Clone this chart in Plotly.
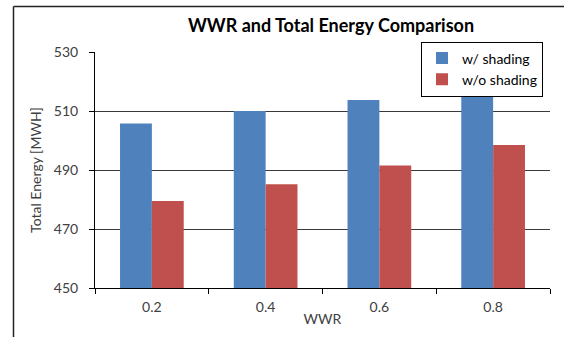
import plotly.graph_objects as go

categories = ["0.2", "0.4", "0.6", "0.8"]
with_shading = [505.8, 510.0, 513.7, 516.5]
without_shading = [479.5, 485.2, 491.5, 498.5]
y_ticks = [450, 470, 490, 510, 530]

FONT = "Lato"
W, H = 564, 337
ml, mr, mt, mb = 95, 14, 52, 49
pw = W - ml - mr
ph = H - mt - mb

def px_x(x):
    return (x - ml) / pw

def px_y(y):
    return 1 + (mt - y) / ph

fig = go.Figure()
fig.add_trace(go.Bar(name="w/ shading", x=categories, y=with_shading,
                     marker=dict(color="#4F81BD", line=dict(width=0))))
fig.add_trace(go.Bar(name="w/o shading", x=categories, y=without_shading,
                     marker=dict(color="#C0504D", line=dict(width=0))))

fig.update_layout(
    width=W, height=H,
    margin=dict(l=ml, r=mr, t=mt, b=mb, autoexpand=False),
    paper_bgcolor="white", plot_bgcolor="white",
    barmode="group", bargap=0.44, bargroupgap=0,
    font=dict(family=FONT, size=14, color="#404040"),
    title=dict(text="<b>WWR and Total Energy Comparison</b>",
               font=dict(family=FONT, size=18, color="black"),
               x=px_x(331), xref="paper", xanchor="center",
               y=1 - 26 / H, yanchor="middle"),
    legend=dict(x=px_x(421), y=px_y(69), xanchor="left", yanchor="middle",
                bgcolor="white", bordercolor="black", borderwidth=1,
                font=dict(family=FONT, size=14, color="black"),
                tracegroupgap=0),
    showlegend=True,
)
fig.update_xaxes(
    showline=True, linecolor="black", linewidth=1,
    ticks="outside", ticklen=5, tickcolor="black",
    tickson="boundaries", showgrid=False, ticklabelstandoff=6,
    title=dict(text="WWR", font=dict(family=FONT, size=14, color="#404040"), standoff=0),
    tickfont=dict(family=FONT, size=14, color="#404040"),
)
fig.update_yaxes(
    range=[450, 530], tickvals=y_ticks,
    showline=True, linecolor="black", linewidth=1,
    ticks="outside", ticklen=5, tickcolor="black",
    showgrid=True, gridcolor="#3a3a3a", gridwidth=1,
    zeroline=False, ticklabelstandoff=8,
    title=dict(text="Total Energy [MWH]", font=dict(family=FONT, size=14, color="#404040"), standoff=8),
    tickfont=dict(family=FONT, size=14, color="#404040"),
)
# outer chart frame (partially visible)
fig.add_shape(type="line", xref="paper", yref="paper",
              x0=px_x(13.5), x1=px_x(13.5), y0=px_y(337), y1=px_y(6.5),
              line=dict(color="#222222", width=1.5))
fig.add_shape(type="line", xref="paper", yref="paper",
              x0=px_x(13.5), x1=px_x(564), y0=px_y(6.5), y1=px_y(6.5),
              line=dict(color="#222222", width=1.5))

fig.write_html("out.html", config={"displayModeBar": False},
               post_script="document.body.style.margin='0';document.body.style.overflow='hidden';")
